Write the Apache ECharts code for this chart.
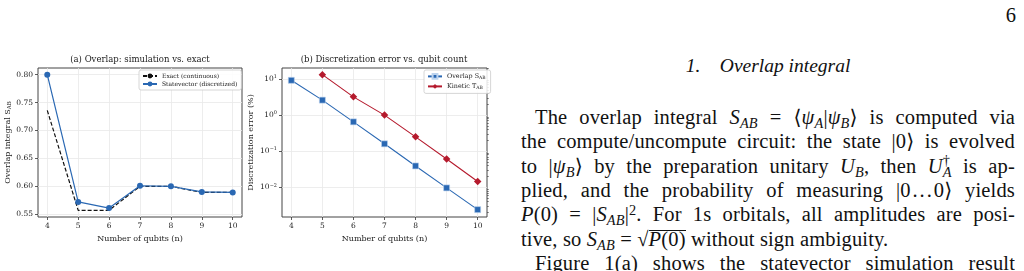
<!DOCTYPE html>
<html>
<head>
<meta charset="utf-8">
<script src="https://cdn.jsdelivr.net/npm/echarts@6/dist/echarts.min.js"></script>
<style>
html, body { margin: 0; padding: 0; background: #fff; width: 1024px; height: 271px; overflow: hidden; }
#chart { position: absolute; left: 0; top: 0; width: 510px; height: 271px; }
.tx { position: absolute; font-family: "Liberation Serif", "Times New Roman", "DejaVu Serif", serif; color: #111; font-size: 20.5px; line-height: 24.3px; }
.ln { left: 521px; width: 494px; height: 24.3px; overflow: hidden; text-align: justify; text-align-last: justify; letter-spacing: 0.15px; }
.sb { font-size: 0.7em; vertical-align: -0.25em; line-height: 0; }
.sp { font-size: 0.7em; vertical-align: 0.45em; line-height: 0; }
.ss { display: inline-block; font-size: 0.7em; line-height: 0.85em; vertical-align: -0.3em; }
.ss span { display: block; }
.rt { display: inline-block; border-top: 1px solid #111; line-height: 17px; }
</style>
</head>
<body>
<div id="chart"></div>

<div class="tx" style="right:8px;top:3px;">6</div>
<div class="tx" style="left:521px;width:494px;top:54px;text-align:center;font-style:italic;font-size:19.5px;">1.&nbsp;&nbsp;&nbsp;&nbsp;Overlap integral</div>

<div class="tx ln" style="top:105px;padding-left:14px;width:480px;">The overlap integral <i>S</i><span class="sb"><i>AB</i></span> = ⟨<i>ψ</i><span class="sb"><i>A</i></span>|<i>ψ</i><span class="sb"><i>B</i></span>⟩ is computed via</div>
<div class="tx ln" style="top:129px;">the compute/uncompute circuit: the state |0⟩ is evolved</div>
<div class="tx ln" style="top:154px;">to |<i>ψ</i><span class="sb"><i>B</i></span>⟩ by the preparation unitary <i>U</i><span class="sb"><i>B</i></span>, then <i>U</i><span class="ss"><span>†</span><span><i>A</i></span></span> is ap-</div>
<div class="tx ln" style="top:178px;">plied, and the probability of measuring |0&#8202;.&#8202;.&#8202;.&#8202;0⟩ yields</div>
<div class="tx ln" style="top:202px;"><i>P</i>(0) = |<i>S</i><span class="sb"><i>AB</i></span>|<span class="sp">2</span>. For 1s orbitals, all amplitudes are posi-</div>
<div class="tx ln" style="top:227px;text-align:left;text-align-last:left;">tive, so <i>S</i><span class="sb"><i>AB</i></span> = √<span class="rt"><i>P</i>(0)</span> without sign ambiguity.</div>
<div class="tx ln" style="top:251px;padding-left:14px;width:480px;">Figure 1(a) shows the statevector simulation result</div>

<script>
// 数据
const qubits = [4, 5, 6, 7, 8, 9, 10];
const exactOverlap = [0.736, 0.557, 0.557, 0.600, 0.600, 0.589, 0.589];
const statevectorOverlap = [0.800, 0.572, 0.561, 0.601, 0.600, 0.590, 0.589];
const overlapError = [9.2, 2.6, 0.65, 0.16, 0.039, 0.0096, 0.0024];
const kineticError = [null, 13.2, 3.2, 1.0, 0.25, 0.061, 0.0144];
const overlapTicks = [0.55, 0.60, 0.65, 0.70, 0.75, 0.80];
const logTicks = [0.01, 0.1, 1, 10];
const logMinorTicks = [0.002, 0.003, 0.004, 0.005, 0.006, 0.007, 0.008, 0.009,
  0.02, 0.03, 0.04, 0.05, 0.06, 0.07, 0.08, 0.09,
  0.2, 0.3, 0.4, 0.5, 0.6, 0.7, 0.8, 0.9,
  2, 3, 4, 5, 6, 7, 8, 9, 20];

const FONT = 'DejaVu Serif';
const BLUE = '#2a68b3';
const RED = '#b51a2d';
const TEXT = '#222';

function pairs(xs, ys) {
  return xs.map((x, i) => [x, ys[i]]).filter(p => p[1] != null);
}

const expLabel = {
  '0.01': '10{s|−2}', '0.1': '10{s|−1}', '1': '10{s|0}', '10': '10{s|1}'
};

function xAxisFor(gridIndex) {
  return {
    type: 'value', gridIndex: gridIndex, min: 3.7, max: 10.3,
    name: 'Number of qubits (n)', nameLocation: 'middle', nameGap: 16,
    nameTextStyle: { fontFamily: FONT, fontSize: 8, color: TEXT },
    axisLine: { show: false },
    axisTick: { show: true, length: 3, customValues: qubits, lineStyle: { color: '#333', width: 0.8 } },
    axisLabel: { customValues: qubits, margin: 5, fontFamily: FONT, fontSize: 7.5, color: TEXT },
    splitLine: { show: true, lineStyle: { color: '#e8e8e8', width: 0.8 } }
  };
}

let chart = echarts.init(document.getElementById('chart'), null, { renderer: 'canvas' });

let option = {
  animation: false,
  backgroundColor: '#fff',
  title: [
    { text: '(a) Overlap: simulation vs. exact', left: 140, top: 55, textAlign: 'center', padding: 0,
      textStyle: { fontFamily: FONT, fontSize: 8.5, fontWeight: 'normal', color: TEXT } },
    { text: '(b) Discretization error vs. qubit count', left: 384, top: 55, textAlign: 'center', padding: 0,
      textStyle: { fontFamily: FONT, fontSize: 8.5, fontWeight: 'normal', color: TEXT } }
  ],
  grid: [
    { left: 38, top: 68, width: 204, height: 149, show: true, borderColor: '#444', borderWidth: 1, outerBoundsMode: 'none' },
    { left: 282, top: 68, width: 205, height: 149, show: true, borderColor: '#444', borderWidth: 1, outerBoundsMode: 'none' }
  ],
  legend: [
    {
      data: ['Exact (continuous)', 'Statevector (discretized)'],
      left: 139, top: 70, orient: 'vertical', itemGap: 2, itemWidth: 14, itemHeight: 6,
      padding: [3, 4, 3, 3], borderColor: '#ccc', borderWidth: 0.8, borderRadius: 2,
      backgroundColor: 'rgba(255,255,255,0.85)',
      textStyle: { fontFamily: FONT, fontSize: 6, color: TEXT }
    },
    {
      data: ['Overlap SAB', 'Kinetic TAB'],
      left: 424, top: 70, orient: 'vertical', itemGap: 3, itemWidth: 14, itemHeight: 6,
      padding: [3, 5, 3, 3], borderColor: '#ccc', borderWidth: 0.8, borderRadius: 2,
      backgroundColor: 'rgba(255,255,255,0.85)',
      formatter: function (name) {
        return name === 'Overlap SAB' ? '{t|Overlap S}{s|AB}' : '{t|Kinetic T}{s|AB}';
      },
      textStyle: {
        fontFamily: FONT, fontSize: 6.4, color: TEXT,
        rich: {
          t: { fontFamily: FONT, fontSize: 6.4, color: TEXT },
          s: { fontFamily: FONT, fontSize: 4.5, color: TEXT, verticalAlign: 'bottom', padding: [3, 0, 0, 0] }
        }
      }
    }
  ],
  xAxis: [xAxisFor(0), xAxisFor(1)],
  yAxis: [
    {
      type: 'value', gridIndex: 0, min: 0.545, max: 0.812,
      name: '{t|Overlap integral S}{s|AB}', nameLocation: 'middle', nameGap: 24, nameRotate: 90,
      nameTextStyle: {
        rich: {
          t: { fontFamily: FONT, fontSize: 8, color: TEXT },
          s: { fontFamily: FONT, fontSize: 5.5, color: TEXT, verticalAlign: 'bottom', padding: [3, 0, 0, 0] }
        }
      },
      axisLine: { show: false },
      axisTick: { show: true, length: 3, customValues: overlapTicks, lineStyle: { color: '#333', width: 0.8 } },
      axisLabel: { customValues: overlapTicks, margin: 5, fontFamily: FONT, fontSize: 7.5, color: TEXT,
        formatter: v => v.toFixed(2) },
      splitLine: { show: true, lineStyle: { color: '#e8e8e8', width: 0.8 } }
    },
    {
      type: 'log', logBase: 10, gridIndex: 1, min: 0.0015, max: 20.2,
      name: 'Discretization error (%)', nameLocation: 'middle', nameGap: 27, nameRotate: 90,
      nameTextStyle: { fontFamily: FONT, fontSize: 8, color: TEXT },
      axisLine: { show: false },
      axisTick: { show: true, length: 3, customValues: logTicks, lineStyle: { color: '#333', width: 0.8 } },
      axisLabel: {
        customValues: logTicks, margin: 5, fontFamily: FONT, fontSize: 7.5, color: TEXT,
        formatter: v => expLabel[String(+v.toPrecision(3))] || '',
        rich: { s: { fontFamily: FONT, fontSize: 5, color: TEXT, verticalAlign: 'top', padding: [0, 0, 4, 0] } }
      },
      splitLine: { show: true, lineStyle: { color: '#e8e8e8', width: 0.8 } }
    },
    {
      // 只画次刻度
      type: 'log', logBase: 10, gridIndex: 1, min: 0.0015, max: 20.2,
      axisLine: { show: false },
      axisTick: { show: true, length: 1.8, customValues: logMinorTicks, lineStyle: { color: '#333', width: 0.6 } },
      axisLabel: { show: false },
      splitLine: { show: false }
    }
  ],
  series: [
    {
      name: 'Exact (continuous)', type: 'line', xAxisIndex: 0, yAxisIndex: 0,
      data: pairs(qubits, exactOverlap), symbol: 'none', z: 2,
      lineStyle: { color: '#111', width: 1.2, type: [4, 2] }, itemStyle: { color: '#111' }
    },
    {
      name: 'Statevector (discretized)', type: 'line', xAxisIndex: 0, yAxisIndex: 0,
      data: pairs(qubits, statevectorOverlap), symbol: 'circle', symbolSize: 6, z: 3,
      lineStyle: { color: BLUE, width: 1.2 }, itemStyle: { color: BLUE }
    },
    {
      name: 'Overlap SAB', type: 'line', xAxisIndex: 1, yAxisIndex: 1,
      data: pairs(qubits, overlapError), symbol: 'rect', symbolSize: 6,
      lineStyle: { color: BLUE, width: 1.1 }, itemStyle: { color: BLUE, borderColor: '#bcd3ee', borderWidth: 0.6 }
    },
    {
      name: 'Kinetic TAB', type: 'line', xAxisIndex: 1, yAxisIndex: 1,
      data: pairs(qubits, kineticError), symbol: 'diamond', symbolSize: 7.5,
      lineStyle: { color: RED, width: 1.1 }, itemStyle: { color: RED }
    }
  ]
};

chart.setOption(option);

window.onresize = function () {
  chart.resize();
};
</script>
</body>
</html>
